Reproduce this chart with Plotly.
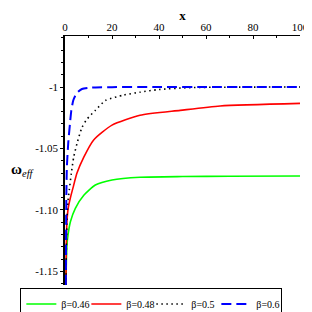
import plotly.graph_objects as go

# beta = 0.46
x_046 = [0.4, 0.6, 0.85, 1.3, 2.3, 4.4, 8, 12.9, 20, 31.9, 50, 70, 100]
y_046 = [-1.161, -1.14, -1.128, -1.120, -1.1095, -1.0986, -1.088, -1.0797, -1.0756, -1.0734, -1.0728, -1.0726, -1.0724]

# beta = 0.48
x_048 = [0.4, 0.55, 0.8, 1.4, 2.3, 3.4, 5.1, 8, 12.2, 20, 31.9, 49, 66, 100]
y_048 = [-1.161, -1.13, -1.11, -1.098, -1.09, -1.082, -1.070, -1.057, -1.043, -1.031, -1.023, -1.019, -1.0154, -1.0133]

# beta = 0.5
x_050 = [0.4, 0.6, 0.9, 1.3, 1.8, 2.7, 3.7, 5.1, 7.2, 9.4, 12.9, 17.2, 25, 31.9, 40, 53, 70, 100]
y_050 = [-1.161, -1.13, -1.105, -1.092, -1.084, -1.070, -1.057, -1.046, -1.033, -1.026, -1.019, -1.011, -1.0065, -1.0042, -1.002, -1.0005, -1.0001, -1.0]

# beta = 0.6
x_060 = [0.35, 0.55, 0.8, 1.4, 2.1, 2.7, 3.5, 4.4, 5.5, 7.2, 10, 13, 20, 40, 60, 80, 100]
y_060 = [-1.161, -1.092, -1.065, -1.045, -1.03, -1.019, -1.011, -1.007, -1.004, -1.0016, -1.0006, -1.0003, -1.0001, -1.0, -1.0, -1.0, -1.0]

series = [
    ("β=0.46", x_046, y_046, "#00ff00", "solid", 1.6),
    ("β=0.48", x_048, y_048, "#ff0000", "solid", 1.6),
    ("β=0.5", x_050, y_050, "#000000", "1.5px,3.5px", 1.6),
    ("β=0.6", x_060, y_060, "#0000ff", "10px,5px", 2),
]

y_tickvals = [-1.15, -1.1, -1.05, -1.0]
y_ticktext = ["-1.15", "-1.10", "-1.05", "-1"]
x_tickvals = [0, 20, 40, 60, 80, 100]

SERIF = "Times New Roman, Liberation Serif, serif"

fig = go.Figure()
for name, xs, ys, color, dash, lw in series:
    fig.add_trace(go.Scatter(
        x=xs, y=ys, name=name, mode="lines",
        line=dict(color=color, width=lw, dash=dash, shape="spline", smoothing=0.6),
    ))

font = dict(family=SERIF, size=11, color="black")

# page adds an 8px body margin, so the figure is 304x304
fig.update_layout(
    width=304, height=304,
    margin=dict(l=57, r=12, t=28, b=27, autoexpand=False),
    paper_bgcolor="white", plot_bgcolor="white",
    font=font,
    showlegend=True,
    legend=dict(
        orientation="h",
        x=-0.19, y=-0.014, xanchor="left", yanchor="top",
        bordercolor="black", borderwidth=1, bgcolor="white",
        font=dict(family=SERIF, size=10, color="black"),
        itemwidth=30, tracegroupgap=0, entrywidth=20, entrywidthmode="pixels",
    ),
    xaxis=dict(
        side="top", range=[0, 100], tickvals=x_tickvals,
        showline=True, linecolor="black", linewidth=1.2,
        showgrid=False, zeroline=False,
        ticks="inside", ticklen=3, tickcolor="black",
        minor=dict(dtick=10, ticks="inside", ticklen=2, tickcolor="black"),
        title=dict(text="<b>x</b>", font=dict(family=SERIF, size=13), standoff=4),
        tickfont=font,
    ),
    yaxis=dict(
        range=[-1.161, -0.9585], tickvals=y_tickvals, ticktext=y_ticktext,
        showline=True, linecolor="black", linewidth=1.5,
        showgrid=False, zeroline=False,
        ticks="outside", ticklen=3, tickcolor="black",
        minor=dict(dtick=0.01, tick0=-1.0, ticks="outside", ticklen=2, tickcolor="black"),
        tickfont=font,
    ),
    annotations=[dict(
        text="<b>ω</b><sub><i>eff</i></sub>", xref="paper", yref="paper",
        x=-0.24, y=0.46, xanchor="left", yanchor="middle", showarrow=False,
        font=dict(family=SERIF, size=15, color="black"),
    )],
)

fig.write_html("out.html")
